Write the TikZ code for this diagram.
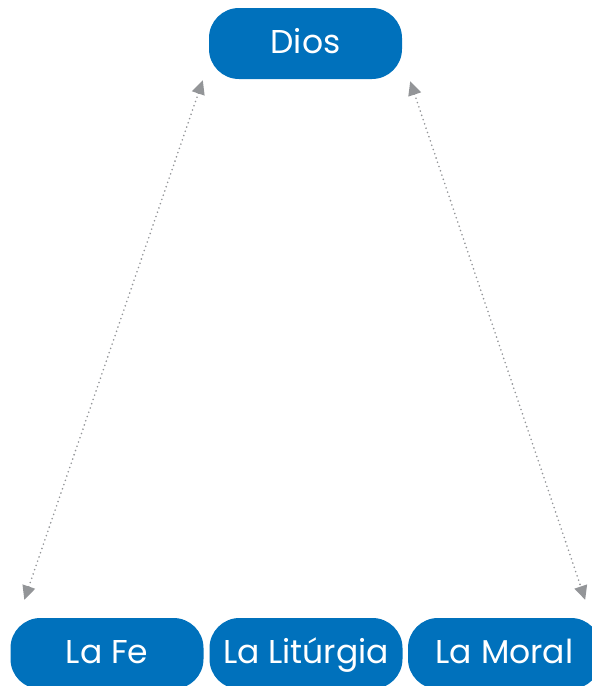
\documentclass[tikz,border=0pt]{standalone}
\usepackage{fontspec}
\setmainfont{Poppins}
\usetikzlibrary{positioning,
        arrows.meta}
\definecolor{diosblue}{HTML}{0071BC}
\definecolor{linkgray}{HTML}{939598}

\begin{document}
\begin{tikzpicture}[x=1pt,y=-1pt,
        pill/.style={rectangle,rounded corners=30pt,fill=diosblue,text=white,
            minimum width=193pt,minimum height=71pt,inner sep=0pt,
            text height=26pt,text depth=7pt,
            font=\fontsize{33}{38}\selectfont},
        link/.style={{Triangle[length=14pt,width=13pt]}-{Triangle[length=14pt,width=13pt]},
            linkgray,line width=1.8pt,dash pattern=on 0pt off 4.5pt,line cap=round}]
            \useasboundingbox (0,0) rectangle (592,686);
            \node [pill] (Dios) at (305.5,43.5) {Dios};
            \node [pill] (Fe) at (107,653.5) {La Fe};
            \node [pill] (Liturgia) at (306,653.5) {La Litúrgia};
            \node [pill] (Moral) at (504.5,653.5) {La Moral};

            \draw [link] ([xshift=-6pt,yshift=-1pt]Dios.south west) -- ([xshift=14pt,yshift=18pt]Fe.north west);
            \draw [link] ([xshift=8pt,yshift=-2pt]Dios.south east) -- ([xshift=-16pt,yshift=18pt]Moral.north east);
        \end{tikzpicture}
\end{document}
